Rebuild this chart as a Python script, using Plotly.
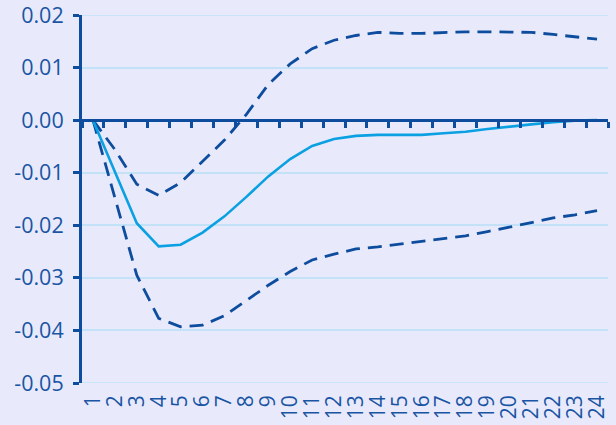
import plotly.graph_objects as go

periods = [str(i) for i in range(1, 25)]
irf = [0.0, -0.0097, -0.0196, -0.0240, -0.0237, -0.0214, -0.0183, -0.0146, -0.0107, -0.0074,
       -0.0049, -0.0036, -0.0030, -0.0028, -0.0028, -0.0028, -0.0025, -0.0022, -0.0017, -0.0012,
       -0.0008, -0.0004, -0.0001, 0.0]
upper = [0.0, -0.0056, -0.0122, -0.0143, -0.0119, -0.0079, -0.0038, 0.0011, 0.0068, 0.0107,
         0.0136, 0.0152, 0.0161, 0.0167, 0.0165, 0.0165, 0.0167, 0.0168, 0.0168, 0.0168,
         0.0167, 0.0163, 0.0159, 0.0154]
lower = [0.0, -0.0145, -0.0295, -0.0377, -0.0393, -0.0390, -0.0372, -0.0343, -0.0314, -0.0288,
         -0.0266, -0.0255, -0.0245, -0.0241, -0.0236, -0.0231, -0.0226, -0.0220, -0.0212, -0.0204,
         -0.0195, -0.0186, -0.0180, -0.0172]
y_ticks = [0.02, 0.01, 0.0, -0.01, -0.02, -0.03, -0.04, -0.05]
y_ticktext = ["0.02", "0.01", "0.00", "-0.01", "-0.02", "-0.03", "-0.04", "-0.05"]

BG = "#e8eafc"
DARK = "#0e4d9e"
LIGHT = "#0aa0e2"
GRID = "#c3e2f8"
TXT = "#1a55a3"
FONT = "Open Sans"
FS = 21.5

fig = go.Figure()
fig.add_trace(go.Scatter(x=periods, y=upper, mode="lines",
                         line=dict(color=DARK, width=2.8, dash="14px,8px"), showlegend=False))
fig.add_trace(go.Scatter(x=periods, y=lower, mode="lines",
                         line=dict(color=DARK, width=2.8, dash="14px,8px"), showlegend=False))
fig.add_trace(go.Scatter(x=periods, y=irf, mode="lines",
                         line=dict(color=LIGHT, width=2.6), showlegend=False))
# invisible trace to carry the zero-line axis
fig.add_trace(go.Scatter(x=periods, y=[0] * len(periods), xaxis="x2", mode="lines",
                         line=dict(width=0), opacity=0, hoverinfo="skip", showlegend=False))

ymin, ymax = -0.05, 0.02

# edge gridlines (top and bottom of the value range)
for yv in (ymin, ymax):
    fig.add_shape(type="line", xref="paper", x0=0, x1=1, yref="y", y0=yv, y1=yv,
                  line=dict(color=GRID, width=1.5), layer="below")

fig.update_layout(
    width=616, height=425,
    margin=dict(l=82, r=8, t=15, b=42),
    paper_bgcolor=BG, plot_bgcolor=BG,
    font=dict(family=FONT, color=TXT),
    xaxis=dict(type="category", categoryorder="array", categoryarray=periods,
               range=[-0.5, len(periods) - 0.5], showgrid=False, showline=False,
               zeroline=False, ticks="", tickangle=-90, tickmode="array",
               tickvals=periods, ticktext=periods, automargin=False,
               ticklabelstandoff=7,
               tickfont=dict(family=FONT, size=21, color=TXT)),
    xaxis2=dict(type="category", categoryorder="array", categoryarray=periods,
                overlaying="x", anchor="free", position=(0 - ymin) / (ymax - ymin),
                side="bottom", range=[-0.5, len(periods) - 0.5], showgrid=False,
                showticklabels=False, showline=True, linecolor=DARK, linewidth=3,
                ticks="outside", tickson="boundaries", ticklen=6, tickwidth=3,
                tickcolor=DARK, zeroline=False, automargin=False),
    yaxis=dict(range=[ymin, ymax], tickmode="array", tickvals=y_ticks, ticktext=y_ticktext,
               showgrid=True, gridcolor=GRID, gridwidth=1.5, zeroline=False,
               showline=True, linecolor=DARK, linewidth=3, ticks="outside",
               ticklen=6, tickwidth=3, tickcolor=DARK, automargin=False,
               ticklabelstandoff=5, ticklabeloverflow="allow",
               tickfont=dict(family=FONT, size=FS, color=TXT)),
)

fig.write_html(
    "out.html",
    config={"displayModeBar": False},
    post_script="document.body.style.margin='0';document.body.style.background='%s';" % BG,
)
